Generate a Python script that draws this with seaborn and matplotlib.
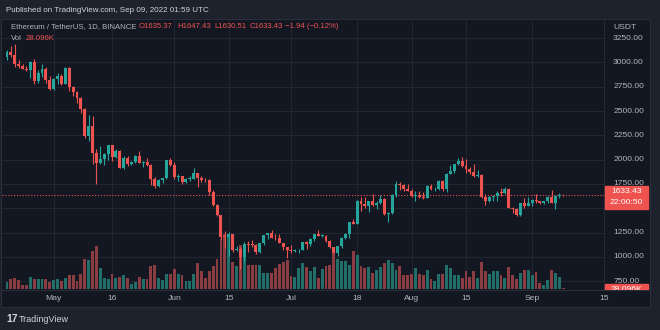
import numpy as np
import pandas as pd
import matplotlib
matplotlib.use("Agg")
import matplotlib.pyplot as plt
import matplotlib.transforms as mtrans
from matplotlib.patches import Rectangle
import seaborn as sns

# ---------------- data (ETH/USDT daily, Apr 19 - Sep 9 2022) ----------------
dates = pd.date_range("2022-04-19", "2022-09-09", freq="D")

opens = [3057, 3103, 3077, 2986, 2964, 2938, 2922, 3008, 2808, 2889,
         2936, 2816, 2729, 2827, 2857, 2783, 2940, 2748, 2694, 2636,
         2518, 2243, 2342, 2072, 1961, 2012, 2055, 2146, 2024, 2090,
         1913, 2018, 1960, 1975, 2043, 1971, 1978, 1944, 1803, 1725,
         1793, 1811, 1996, 1942, 1822, 1834, 1775, 1804, 1806, 1859,
         1813, 1793, 1789, 1665, 1529, 1434, 1208, 1207, 1233, 1068,
         1085, 995, 1128, 1127, 1124, 1051, 1143, 1225, 1242, 1198,
         1193, 1143, 1098, 1067, 1060, 1067, 1075, 1150, 1134, 1187,
         1238, 1217, 1217, 1167, 1097, 1038, 1112, 1191, 1233, 1354,
         1340, 1580, 1542, 1520, 1577, 1536, 1552, 1598, 1441, 1451,
         1636, 1745, 1738, 1696, 1681, 1631, 1635, 1618, 1608, 1733,
         1695, 1699, 1777, 1701, 1851, 1879, 1958, 1983, 1935, 1901,
         1876, 1834, 1847, 1613, 1577, 1617, 1624, 1660, 1657, 1696,
         1508, 1492, 1431, 1553, 1523, 1553, 1586, 1577, 1557, 1576,
         1617, 1558, 1629, 1635.37]

highs = [3130, 3171, 3190, 3030, 2980, 2964, 3018, 3038, 2920, 2980,
         2954, 2860, 2840, 2890, 2877, 2955, 2952, 2760, 2705, 2650,
         2530, 2455, 2450, 2110, 2140, 2070, 2150, 2150, 2110, 2100,
         2035, 2040, 1990, 2053, 2085, 1990, 2020, 1955, 1820, 1800,
         1815, 2000, 2020, 1975, 1850, 1835, 1810, 1830, 1915, 1865,
         1830, 1810, 1797, 1685, 1545, 1434, 1270, 1254, 1237, 1110,
         1100, 1150, 1160, 1178, 1133, 1145, 1230, 1250, 1280, 1235,
         1235, 1145, 1100, 1122, 1085, 1082, 1152, 1165, 1192, 1240,
         1280, 1235, 1222, 1172, 1100, 1115, 1205, 1250, 1355, 1395,
         1590, 1620, 1620, 1580, 1645, 1580, 1640, 1605, 1465, 1648,
         1785, 1767, 1755, 1748, 1695, 1680, 1681, 1668, 1743, 1745,
         1720, 1795, 1786, 1860, 1942, 1960, 2020, 2030, 2012, 1925,
         1960, 1890, 1848, 1650, 1630, 1630, 1680, 1705, 1715, 1710,
         1510, 1500, 1555, 1606, 1615, 1595, 1645, 1580, 1580, 1625,
         1690, 1640, 1655, 1647.43]

lows = [3030, 3054, 2950, 2943, 2929, 2908, 2838, 2781, 2790, 2853,
        2790, 2722, 2715, 2780, 2770, 2778, 2708, 2652, 2588, 2484,
        2220, 2192, 1960, 1750, 1955, 1950, 2000, 1990, 2013, 1910,
        1900, 1930, 1945, 1965, 1965, 1920, 1935, 1740, 1705, 1720,
        1760, 1800, 1930, 1800, 1780, 1745, 1765, 1785, 1800, 1720,
        1770, 1775, 1640, 1522, 1420, 1170, 1090, 1010, 1050, 1060,
        880, 960, 1050, 1105, 1030, 1040, 1120, 1180, 1195, 1170,
        1140, 1075, 990, 1040, 1050, 1040, 1070, 1085, 1110, 1165,
        1210, 1205, 1150, 1090, 1035, 1006, 1090, 1180, 1190, 1338,
        1335, 1475, 1500, 1460, 1520, 1490, 1540, 1430, 1356, 1440,
        1615, 1685, 1680, 1677, 1618, 1580, 1603, 1595, 1603, 1690,
        1675, 1690, 1680, 1665, 1850, 1860, 1950, 1925, 1860, 1850,
        1820, 1820, 1602, 1530, 1565, 1580, 1580, 1630, 1651, 1500,
        1450, 1423, 1420, 1500, 1520, 1520, 1555, 1540, 1542, 1555,
        1558, 1490, 1605, 1630.51]

closes = [3103, 3077, 2986, 2964, 2938, 2922, 3008, 2808, 2889, 2936,
          2816, 2729, 2827, 2857, 2783, 2940, 2748, 2694, 2636, 2518,
          2243, 2342, 2072, 1961, 2012, 2055, 2146, 2024, 2090, 1913,
          2018, 1960, 1975, 2043, 1971, 1978, 1944, 1803, 1725, 1793,
          1811, 1996, 1942, 1822, 1834, 1775, 1804, 1806, 1859, 1813,
          1793, 1789, 1665, 1529, 1434, 1208, 1207, 1233, 1068, 1085,
          995, 1128, 1127, 1124, 1051, 1143, 1225, 1242, 1198, 1193,
          1143, 1098, 1067, 1060, 1067, 1075, 1150, 1134, 1187, 1238,
          1217, 1217, 1167, 1097, 1038, 1112, 1191, 1233, 1354, 1340,
          1580, 1542, 1520, 1577, 1536, 1552, 1598, 1441, 1451, 1636,
          1745, 1738, 1696, 1681, 1631, 1635, 1618, 1608, 1733, 1695,
          1699, 1777, 1701, 1851, 1879, 1958, 1983, 1935, 1901, 1876,
          1834, 1847, 1613, 1577, 1617, 1624, 1660, 1657, 1696, 1508,
          1492, 1431, 1553, 1523, 1553, 1586, 1577, 1557, 1576, 1617,
          1558, 1629, 1636, 1633.43]

volumes_k = [360, 540, 576, 450, 180, 216, 630, 504, 504, 540,
             540, 360, 486, 540, 396, 576, 720, 720, 396, 774,
             1584, 1530, 2016, 2286, 1134, 576, 540, 810, 576, 630,
             720, 576, 234, 360, 630, 540, 540, 1224, 1296, 576,
             450, 810, 774, 1044, 774, 756, 396, 396, 810, 1404,
             936, 576, 936, 1224, 1584, 2700, 2970, 2880, 1440, 1224,
             2340, 1710, 1296, 1296, 1260, 1296, 864, 864, 864, 1134,
             1350, 1440, 1530, 684, 630, 1134, 1386, 1170, 936, 1170,
             576, 1044, 1224, 1260, 2070, 1620, 1476, 1476, 1260, 2034,
             1800, 1224, 1116, 1170, 846, 990, 1170, 1404, 1566, 1404,
             990, 1224, 720, 720, 810, 1134, 774, 756, 1026, 540,
             414, 774, 810, 1296, 1116, 720, 720, 576, 954, 630,
             954, 576, 1440, 936, 774, 954, 954, 756, 576, 1170,
             720, 540, 846, 990, 990, 756, 900, 306, 216, 486,
             1026, 846, 630, 28.096]

price_ticks = [750, 1000, 1250, 1750, 2000, 2250, 2500, 2750, 3000, 3250]
grid_prices = [750, 1000, 1250, 1500, 1750, 2000, 2250, 2500, 2750, 3000, 3250]
time_ticks = ["2022-05-01", "2022-05-16", "2022-06-01", "2022-06-15", "2022-07-01",
              "2022-07-18", "2022-08-01", "2022-08-15", "2022-09-01"]
time_labels = ["May", "16", "Jun", "15", "Jul", "18", "Aug", "15", "Sep"]

# ---------------- style ----------------
OUTER = "#1e222d"
BG = "#131722"
GRID = "#222631"
BORDER = "#2a2e39"
TXT = "#b2b5be"
UP = "#26a69a"
DN = "#ef5350"
VUP = "#226f6a"
VDN = "#8c3d41"

sns.set_theme(style="dark")
FONT = ["Liberation Sans Narrow", "Liberation Sans", "DejaVu Sans"]
plt.rcParams["font.family"] = FONT
FS = 5.8

W, H = 660, 330
fig = plt.figure(figsize=(W / 100, H / 100), dpi=100, facecolor=OUTER)


def rect(x0, y0, x1, y1):
    return [x0 / W, 1 - y1 / H, (x1 - x0) / W, (y1 - y0) / H]


def ftext(x, y, s, **kw):
    fig.text(x / W, 1 - y / H, s, **kw)


# pane frame + time axis background
fig.patches.append(Rectangle((1 / W, 1 - 307 / H), 649 / W, 288 / H,
                             transform=fig.transFigure, facecolor=BG,
                             edgecolor=BORDER, lw=0.8, zorder=-5))

n = len(dates)
idx = np.arange(n)
o = np.array(opens, float)
c = np.array(closes, float)
hi = np.array(highs, float)
lo = np.array(lows, float)
up = c >= o

XL = (-1.285, 153.47)
YL = (659.5, 3437.0)

# grid axes (bottom)
ax_g = fig.add_axes(rect(2, 20, 604, 290), facecolor=BG)
ax_g.set_zorder(1)
ax_g.set_xlim(*XL)
ax_g.set_ylim(*YL)
tick_pos = [dates.get_loc(pd.Timestamp(t)) for t in time_ticks]
for p in grid_prices:
    ax_g.axhline(p, color=GRID, lw=0.8, zorder=0)
for tp in tick_pos:
    ax_g.axvline(tp, color=GRID, lw=0.8, zorder=0)
ax_g.set_xticks([])
ax_g.set_yticks([])
for s in ax_g.spines.values():
    s.set_visible(False)

# volume axes (seaborn bars, recoloured per candle direction)
ax_v = fig.add_axes(rect(2, 20, 604, 290), facecolor="none")
ax_v.set_zorder(2)
vdf = pd.DataFrame({"i": idx, "vol": volumes_k})
sns.barplot(data=vdf, x="i", y="vol", native_scale=True, color=VUP,
            width=0.74, errorbar=None, saturation=1, linewidth=0, ax=ax_v)
for patch, is_up in zip(ax_v.patches, up):
    patch.set_facecolor(VUP if is_up else VDN)
    patch.set_antialiased(False)
ax_v.set_xlim(*XL)
ax_v.set_ylim(-81, 14499)
ax_v.axis("off")

# price axes
ax = fig.add_axes(rect(2, 20, 604, 290), facecolor="none")
ax.set_zorder(3)
cols = np.where(up, UP, DN)
ax.vlines(idx, lo, hi, colors=cols, lw=0.8, zorder=2)
body_b = np.minimum(o, c)
body_h = np.maximum(np.abs(c - o), 6)
ax.bar(idx, body_h, bottom=body_b, width=0.76, color=cols, lw=0, zorder=3)
ax.axhline(c[-1], color=DN, lw=0.8, ls=(0, (1, 1.6)), zorder=1)
ax.set_xlim(*XL)
ax.set_ylim(*YL)
ax.axis("off")

# time axis labels
tr = mtrans.blended_transform_factory(ax.transData, ax.transAxes)
for tp, lab in zip(tick_pos, time_labels):
    ax.text(tp, -0.033, lab, transform=tr, ha="center", va="center",
            color=TXT, fontsize=FS + 0.3, clip_on=False)
ftext(604, 299, "15", ha="center", va="center", color=TXT, fontsize=FS + 0.3)
fig.lines.append(plt.Line2D([1 / W, 650 / W], [1 - 290 / H, 1 - 290 / H],
                            transform=fig.transFigure, color=BORDER, lw=0.8))

# price scale
ax_p = fig.add_axes(rect(604, 20, 650, 290), facecolor=BG)
ax_p.set_zorder(4)
ax_p.set_xlim(0, 1)
ax_p.set_ylim(*YL)
ax_p.axis("off")
ax_p.axvline(0, color=BORDER, lw=1.2)
for p in price_ticks:
    ax_p.text(0.2, p, f"{p:.2f}", ha="left", va="center", color=TXT,
              fontsize=FS + 0.3)
ax_p.text(0.2, 3360, "USDT", ha="left", va="center", color=TXT, fontsize=FS + 0.3)
ax_p.add_patch(Rectangle((0.02, 1492.8), 0.94, 236.6, color=DN, zorder=5))
ax_p.text(0.49, 1667.7, f"{closes[-1]:.2f}", ha="center", va="center",
          color="white", fontsize=FS + 0.3, zorder=6)
ax_p.text(0.49, 1554.5, "22:00:50", ha="center", va="center",
          color="white", fontsize=FS + 0.3, zorder=6)
ax_p.add_patch(Rectangle((0.02, 600), 0.94, 122, color=DN, zorder=5))
ax_p.text(0.49, 668, f"{volumes_k[-1]:.3f}K", ha="center", va="center",
          color="white", fontsize=FS + 0.3, zorder=6, clip_on=True)

# header / legend
ftext(6, 10, "Published on TradingView.com, Sep 09, 2022 01:59 UTC",
      ha="left", va="center", color="#d1d4dc", fontsize=FS)
ftext(11, 27, "Ethereum / TetherUS, 1D, BINANCE", ha="left", va="center",
      color=TXT, fontsize=FS - 0.2)
legend_vals = [(139, f"O{opens[-1]:.2f}"), (177, f"H{highs[-1]:.2f}"),
               (214, f"L{lows[-1]:.2f}"), (250, f"C{closes[-1]:.2f}"),
               (285, "\u22121.94 (\u22120.12%)")]
for x, s in legend_vals:
    ftext(x, 27, s, ha="left", va="center", color=DN, fontsize=FS - 0.2)
ftext(11, 39, "Vol", ha="left", va="center", color=TXT, fontsize=FS - 0.2)
ftext(26, 39, f"{volumes_k[-1]:.3f}K", ha="left", va="center", color=DN,
      fontsize=FS - 0.2)

# footer
ftext(6, 319, "17", ha="left", va="center", color="#d1d4dc", fontsize=7.5,
      fontweight="bold")
ftext(19, 319, "TradingView", ha="left", va="center", color="#d1d4dc",
      fontsize=6.5)

fig.savefig("out.png", dpi=100, facecolor=OUTER)
